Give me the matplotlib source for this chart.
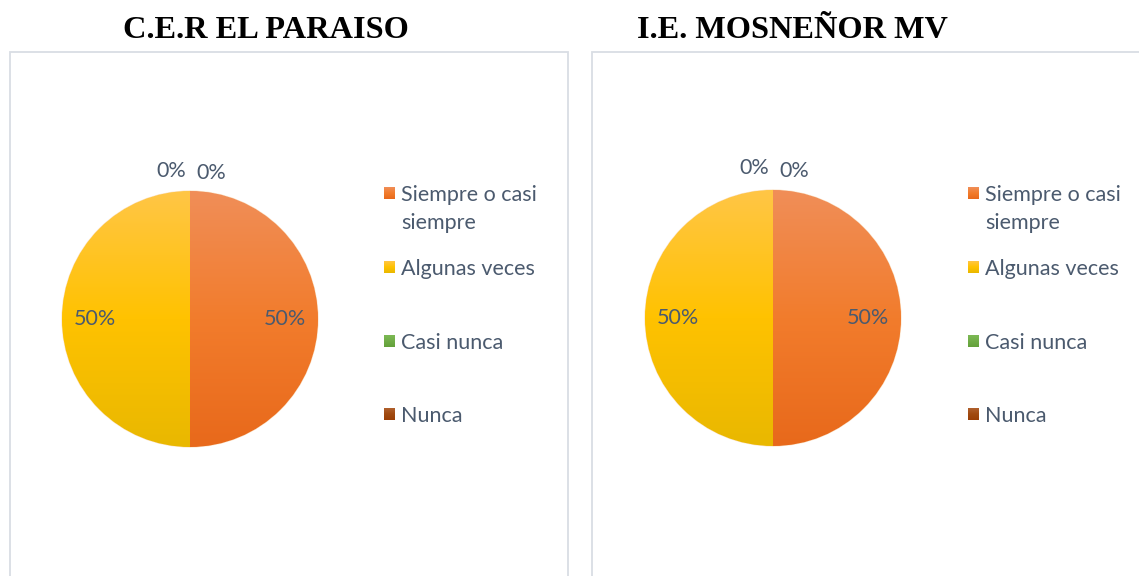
import matplotlib.pyplot as plt
import numpy as np
from matplotlib.patches import Rectangle
from matplotlib.colors import LinearSegmentedColormap

W, H = 1139, 576

titulos = ['C.E.R EL PARAISO', 'I.E. MOSNEÑOR MV']
categorias = ['Siempre o casi\nsiempre', 'Algunas veces', 'Casi nunca', 'Nunca']
valores_paraiso = [50, 50, 0, 0]
valores_mosnenor = [50, 50, 0, 0]
# cores com degradê (topo, meio, base) como no Excel
cores = [('#F08E58', '#F27C2C', '#E8691B'), ('#FFC646', '#FFC200', '#E9B800'),
         ('#7DB955', '#70AD47', '#63A03A'), ('#B0602E', '#A04A10', '#9A3F06')]
cor_texto = '#4B5A6E'
fs = 15.5

fig = plt.figure(figsize=(W/100, H/100), dpi=100)
ax = fig.add_axes([0, 0, 1, 1])
ax.set_xlim(0, W)
ax.set_ylim(0, H)
ax.set_aspect('equal')
ax.axis('off')

def py(y):  # pixel de cima p/ baixo -> coordenada do eixo
    return H - y

paineis = [
    dict(valores=valores_paraiso, titulo=titulos[0], tx=266, cx=190, cy=319,
         caixa=(10, 52, 558), leg_x=384, zero_pos=[(211, 173), (171, 171)]),
    dict(valores=valores_mosnenor, titulo=titulos[1], tx=792, cx=773, cy=318,
         caixa=(592, 52, 600), leg_x=968, zero_pos=[(794, 171), (754, 168)]),
]
leg_y = [193, 267, 341, 414]
r = 128
grad = np.linspace(0, 1, 256).reshape(-1, 1)

for p in paineis:
    x0, y0, w = p['caixa']
    ax.add_patch(Rectangle((x0, py(H + 5)), w, H + 5 - y0, fill=False,
                           edgecolor='#D9DDE4', linewidth=1.3))
    ax.text(p['tx'], py(30), p['titulo'], ha='center', va='center',
            family='Liberation Serif', weight='bold', fontsize=23.3, color='black')

    cx, cy = p['cx'], py(p['cy'])
    wedges, _, autotexts = ax.pie(p['valores'], center=(cx, cy), radius=r,
                                  startangle=90, counterclock=False,
                                  colors=[c[1] for c in cores],
                                  autopct='%1.0f%%', pctdistance=0.74,
                                  wedgeprops=dict(edgecolor='#FBE3C8', linewidth=0.8),
                                  textprops=dict(family='Lato', fontsize=fs, color=cor_texto),
                                  frame=True)
    for wdg, c in zip(wedges, cores):
        cmap = LinearSegmentedColormap.from_list('g', list(c))
        im = ax.imshow(grad, cmap=cmap, extent=(cx - r, cx + r, cy - r, cy + r),
                       origin='upper', aspect='auto', zorder=wdg.get_zorder())
        im.set_clip_path(wdg)
    k = 0
    for t, v in zip(autotexts, p['valores']):
        t.set_zorder(5)
        if v == 0:
            x, y = p['zero_pos'][k]
            t.set_position((x, py(y)))
            k += 1

    for cat, c, y in zip(categorias, cores, leg_y):
        cmap = LinearSegmentedColormap.from_list('g', list(c))
        ax.imshow(grad, cmap=cmap, origin='upper', aspect='auto', zorder=5,
                  extent=(p['leg_x'], p['leg_x'] + 11, py(y + 6), py(y - 6)))
        for i, linha in enumerate(cat.split('\n')):
            ax.text(p['leg_x'] + 17, py(y + 28 * i), linha, ha='left',
                    va='center_baseline', family='Lato', fontsize=fs, color=cor_texto)

ax.set_xlim(0, W)
ax.set_ylim(0, H)
ax.axis('off')
fig.savefig('out.png', dpi=100, facecolor='white')
